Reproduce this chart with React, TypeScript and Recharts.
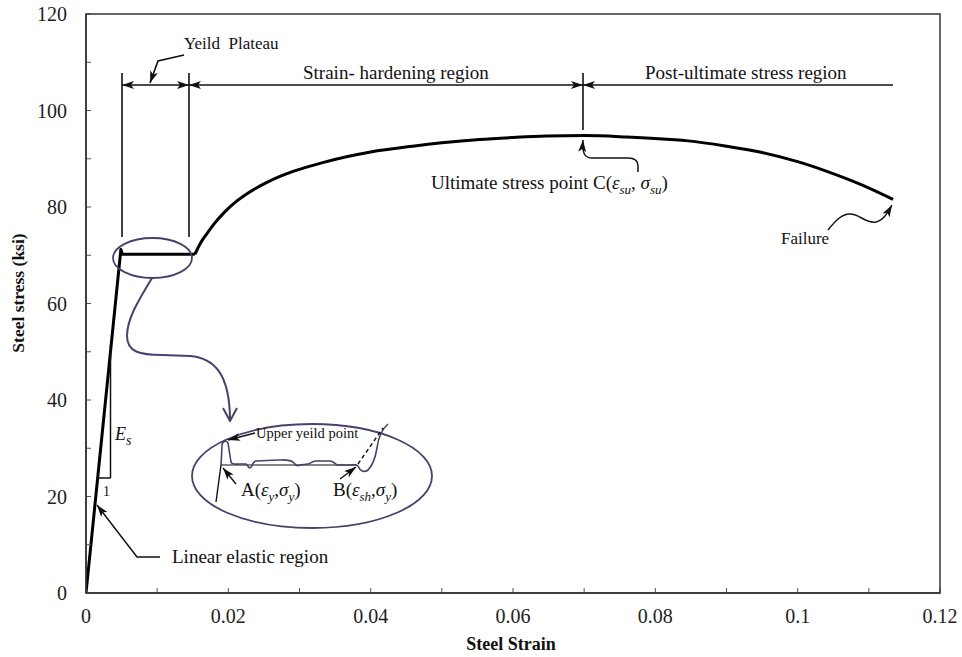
import React from 'react';
import { LineChart, Line, XAxis, YAxis } from 'recharts';

// Elastic branch + yield plateau
const elasticStrain = [0, 0.0049, 0.0051, 0.0153];
const elasticStress = [0, 71.2, 70.2, 70.2];

// Strain-hardening + post-ultimate branch
const hardeningStrain = [
  0.0153, 0.016, 0.017, 0.018, 0.0195, 0.021, 0.023, 0.025, 0.0275,
  0.03, 0.033, 0.0366, 0.04, 0.0459, 0.05, 0.0553, 0.06, 0.0647, 0.07, 0.076, 0.081,
  0.0853, 0.09, 0.0947, 0.1, 0.1041, 0.109, 0.1134,
];
const hardeningStress = [
  70.2, 72.3, 74.5, 76.5, 79.0, 81.0, 83.1, 84.8, 86.5,
  87.8, 89.1, 90.4, 91.4, 92.6, 93.3, 94.0, 94.4, 94.7, 94.8, 94.5, 94.1,
  93.6, 92.6, 91.4, 89.4, 87.4, 84.6, 81.6,
];

const xTicks = [0, 0.01, 0.02, 0.03, 0.04, 0.05, 0.06, 0.07, 0.08, 0.09, 0.1, 0.11, 0.12];
const xTickLabels = ['0', '', '0.02', '', '0.04', '', '0.06', '', '0.08', '', '0.1', '', '0.12'];
const yTicks = [0, 10, 20, 30, 40, 50, 60, 70, 80, 90, 100, 110, 120];
const yTickLabels = ['0', '', '20', '', '40', '', '60', '', '80', '', '100', '', '120'];

const data = [
  ...elasticStrain.slice(0, -1).map((x, i) => ({ x, elastic: elasticStress[i] })),
  {
    x: elasticStrain[elasticStrain.length - 1],
    elastic: elasticStress[elasticStress.length - 1],
    hardening: hardeningStress[0],
  },
  ...hardeningStrain.slice(1).map((x, i) => ({ x, hardening: hardeningStress[i + 1] })),
];

const W = 962;
const H = 657;
const MARGIN = { top: 14, right: 22, bottom: 0, left: 0 };
const Y_AXIS_W = 86;
const X_AXIS_H = 64;
const PL = MARGIN.left + Y_AXIS_W;
const PR = W - MARGIN.right;
const PT = MARGIN.top;
const PB = H - MARGIN.bottom - X_AXIS_H;

const SERIF = "'Liberation Serif', 'Times New Roman', serif";
const PURPLE = '#4b3f6b';
const INK = '#111';

const XTick = (props: any) => {
  const { x, index } = props;
  const label = xTickLabels[index] ?? '';
  return (
    <g>
      <line x1={x} y1={PB} x2={x} y2={PB - 5} stroke="#555" strokeWidth={1} />
      {label && (
        <text x={x} y={PB + 30} textAnchor="middle" fontFamily={SERIF} fontSize={20} fill="#222">
          {label}
        </text>
      )}
    </g>
  );
};

const YTick = (props: any) => {
  const { y, index } = props;
  const label = yTickLabels[index] ?? '';
  return (
    <g>
      <line x1={PL} y1={y} x2={PL + 5} y2={y} stroke="#555" strokeWidth={1} />
      {label && (
        <text x={PL - 19} y={y + 7} textAnchor="end" fontFamily={SERIF} fontSize={20} fill="#222">
          {label}
        </text>
      )}
    </g>
  );
};

const Sub = ({ children }: { children: React.ReactNode }) => (
  <tspan fontSize={13} dy={5}>{children}</tspan>
);

const Overlay = () => (
  <svg
    width={W}
    height={H}
    style={{ position: 'absolute', left: 0, top: 0, pointerEvents: 'none' }}
  >
    <defs>
      <marker id="arr" markerUnits="userSpaceOnUse" markerWidth={12} markerHeight={8}
        viewBox="0 0 12 8" refX={12} refY={4} orient="auto-start-reverse">
        <path d="M0,0 L12,4 L0,8 L3,4 Z" fill={INK} />
      </marker>
      <marker id="arrP" markerUnits="userSpaceOnUse" markerWidth={16} markerHeight={16}
        viewBox="0 0 16 16" refX={15} refY={8} orient="auto">
        <path d="M2,1 L15,8 L2,15" fill="none" stroke={PURPLE} strokeWidth={2} />
      </marker>
    </defs>

    {/* frame */}
    <rect x={PL} y={PT} width={PR - PL} height={PB - PT} fill="none" stroke="#333" strokeWidth={1.5} />

    {/* axis titles */}
    <text x={511} y={650} textAnchor="middle" fontFamily={SERIF} fontWeight="bold" fontSize={18} fill={INK}>
      Steel Strain
    </text>
    <text transform="translate(24,293) rotate(-90)" textAnchor="middle" fontFamily={SERIF}
      fontWeight="bold" fontSize={17.5} fill={INK}>
      Steel stress (ksi)
    </text>

    {/* region dimension lines */}
    <g stroke={INK} strokeWidth={1.6} fill="none">
      <line x1={122} y1={73} x2={122} y2={237} />
      <line x1={189} y1={73} x2={189} y2={237} />
      <line x1={583} y1={73} x2={583} y2={130} />
      <line x1={122} y1={85} x2={189} y2={85} markerStart="url(#arr)" markerEnd="url(#arr)" />
      <line x1={189} y1={85} x2={583} y2={85} markerStart="url(#arr)" markerEnd="url(#arr)" />
      <line x1={583} y1={85} x2={893} y2={85} markerStart="url(#arr)" />
      <path d="M184,55 L158,61 L150,83" markerEnd="url(#arr)" />
    </g>
    <g fontFamily={SERIF} fill={INK}>
      <text x={184} y={49} fontSize={17} style={{ whiteSpace: 'pre' }}>Yeild  Plateau</text>
      <text x={303} y={79} fontSize={19}>Strain- hardening region</text>
      <text x={645} y={79} fontSize={19}>Post-ultimate stress region</text>
    </g>

    {/* ultimate point */}
    <path d="M638,172 L638,166 C638,160 634,158 628,158 L592,158 C585,158 582,154 583,140"
      stroke={INK} strokeWidth={1.5} fill="none" markerEnd="url(#arr)" />
    <text x={431} y={189} fontFamily={SERIF} fontSize={19} fill={INK}>
      Ultimate stress point C(<tspan fontStyle="italic">ε<Sub>su</Sub></tspan>
      <tspan dy={-5}>, </tspan><tspan fontStyle="italic">σ<Sub>su</Sub></tspan><tspan dy={-5}>)</tspan>
    </text>

    {/* failure */}
    <path d="M828,230 C836,220 842,214 850,214 C860,214 866,224 876,222 C884,220 888,212 892,205"
      stroke={INK} strokeWidth={1.5} fill="none" markerEnd="url(#arr)" />
    <text x={781} y={244} fontFamily={SERIF} fontSize={17} fill={INK}>Failure</text>

    {/* modulus triangle */}
    <g stroke={INK} strokeWidth={1.5} fill="none">
      <line x1={110.5} y1={345} x2={110.5} y2={478} />
      <line x1={98} y1={478} x2={110.5} y2={478} />
    </g>
    <text x={115} y={440} fontFamily={SERIF} fontStyle="italic" fontSize={18} fill={INK}>
      E<tspan fontSize={14} dy={5}>s</tspan>
    </text>
    <text x={103} y={496} fontFamily={SERIF} fontSize={14} fill={INK}>1</text>

    {/* linear elastic */}
    <path d="M160,557 L137,557 L97,505" stroke={INK} strokeWidth={1.5} fill="none" markerEnd="url(#arr)" />
    <text x={172} y={563} fontFamily={SERIF} fontSize={19} fill={INK}>Linear elastic region</text>

    {/* zoom callout */}
    <ellipse cx={152.5} cy={258} rx={39.5} ry={20} fill="none" stroke={PURPLE} strokeWidth={1.8} />
    <path d="M152,278 C140,298 127,318 127,336 C127,352 140,355 162,355 L190,356 C213,358 230,372 230,421"
      fill="none" stroke={PURPLE} strokeWidth={2} markerEnd="url(#arrP)" />
    <ellipse cx={312} cy={476} rx={120} ry={52} fill="none" stroke={PURPLE} strokeWidth={1.8} />

    {/* inset detail */}
    <g fill="none">
      <line x1={216} y1={502} x2={221} y2={465} stroke={INK} strokeWidth={1.4} />
      <line x1={221} y1={465} x2={357} y2={465} stroke={INK} strokeWidth={1.2} />
      <path
        d="M221,466 L222,446 C222,441 226,440 228,443 L231,462 C232,465 236,464 240,464 L246,464 C248,465 248,468 250,468 C252,468 252,462 256,461 L278,460 C284,460 290,459 294,463 C296,466 298,466 300,465 L308,464 C310,464 312,461 316,461 L330,461 C334,461 335,465 338,465 L350,465 C354,465 356,464 358,466 C360,471 364,473 368,470 C372,466 375,460 377,448 C378,440 381,430 388,424"
        stroke={PURPLE} strokeWidth={1.6} />
      <line x1={358} y1={464} x2={383} y2={428} stroke={INK} strokeWidth={1.4} strokeDasharray="4,3" />
      <g stroke={INK} strokeWidth={1.4}>
        <line x1={255} y1={433} x2={228} y2={440} markerEnd="url(#arr)" />
        <line x1={236} y1={484} x2={223} y2={468} markerEnd="url(#arr)" />
        <line x1={340} y1={479} x2={356} y2={467} markerEnd="url(#arr)" />
      </g>
    </g>
    <text x={256} y={438} fontFamily={SERIF} fontSize={14.5} fill={INK}>Upper yeild point</text>
    <text x={241} y={496} fontFamily={SERIF} fontSize={19} fill={INK}>
      A(<tspan fontStyle="italic">ε<Sub>y</Sub></tspan><tspan dy={-5}>,</tspan>
      <tspan fontStyle="italic">σ<Sub>y</Sub></tspan><tspan dy={-5}>)</tspan>
    </text>
    <text x={333} y={496} fontFamily={SERIF} fontSize={19} fill={INK}>
      B(<tspan fontStyle="italic">ε<Sub>sh</Sub></tspan><tspan dy={-5}>,</tspan>
      <tspan fontStyle="italic">σ<Sub>y</Sub></tspan><tspan dy={-5}>)</tspan>
    </text>
  </svg>
);

export default function App() {
  return (
    <div style={{ position: 'absolute', left: 0, top: 0, width: W, height: H, background: '#fff' }}>
      <LineChart width={W} height={H} data={data} margin={MARGIN}>
        <XAxis
          dataKey="x"
          type="number"
          domain={[0, 0.12]}
          ticks={xTicks}
          interval={0}
          height={X_AXIS_H}
          tickLine={false}
          tickSize={0}
          tickMargin={0}
          axisLine={{ stroke: '#333', strokeWidth: 1.5 }}
          tick={<XTick />}
          allowDataOverflow
        />
        <YAxis
          type="number"
          domain={[0, 120]}
          ticks={yTicks}
          interval={0}
          width={Y_AXIS_W}
          tickLine={false}
          tickSize={0}
          tickMargin={0}
          axisLine={{ stroke: '#333', strokeWidth: 1.5 }}
          tick={<YTick />}
          allowDataOverflow
        />
        <Line
          dataKey="elastic"
          type="linear"
          stroke="#000"
          strokeWidth={3}
          dot={false}
          isAnimationActive={false}
          strokeLinejoin="round"
        />
        <Line
          dataKey="hardening"
          type="monotone"
          stroke="#000"
          strokeWidth={3}
          dot={false}
          isAnimationActive={false}
          strokeLinejoin="round"
        />
      </LineChart>
      <Overlay />
    </div>
  );
}
